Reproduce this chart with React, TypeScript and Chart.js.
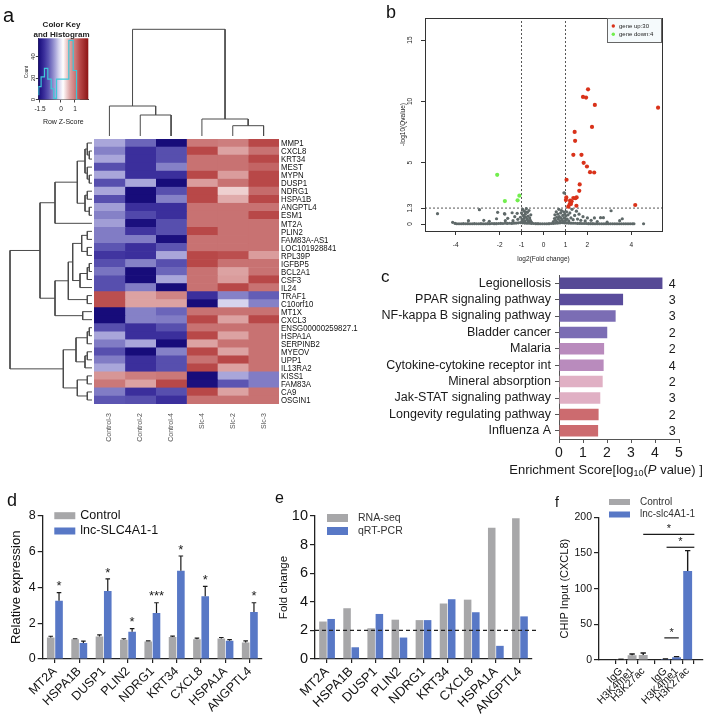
import React, { useEffect, useRef } from 'react';
import { Chart, registerables } from 'chart.js';

Chart.register(...registerables);

const FONT = '"Liberation Sans", Arial, Helvetica, sans-serif';
Chart.defaults.font.family = FONT;
Chart.defaults.color = '#222';

// ---------------- Panel a : heatmap ----------------
const GENES = ['MMP1', 'CXCL8', 'KRT34', 'MEST', 'MYPN', 'DUSP1', 'NDRG1', 'HSPA1B', 'ANGPTL4', 'ESM1', 'MT2A', 'PLIN2', 'FAM83A-AS1', 'LOC101928841', 'RPL39P', 'IGFBP5', 'BCL2A1', 'CSF3', 'IL24', 'TRAF1', 'C10orf10', 'MT1X', 'CXCL3', 'ENSG00000259827.1', 'HSPA1A', 'SERPINB2', 'MYEOV', 'UPP1', 'IL13RA2', 'KISS1', 'FAM83A', 'CA9', 'OSGIN1'];
const SAMPLES = ['Control-3', 'Control-2', 'Control-4', 'Slc-4', 'Slc-2', 'Slc-3'];
const Z_CONTROL3 = [-0.4, -0.62, -0.4, -0.95, -0.4, -0.95, -0.4, -0.95, -0.45, -0.62, -0.45, -0.65, -0.65, -0.9, -1.15, -0.95, -0.7, -0.95, -0.95, 1.3, 1.3, -1.6, -1.6, -0.95, -0.4, -0.65, -0.95, -0.65, -0.4, 0.75, 1.0, -0.65, -0.9];
const Z_CONTROL2 = [-0.8, -1.2, -1.2, -1.2, -1.2, -0.4, -1.6, -1.6, -1.2, -1.0, -1.55, -1.15, -0.65, -1.2, -1.2, -0.62, -1.6, -1.6, -0.65, 0.65, 0.65, -0.62, -0.62, -1.2, -1.2, -0.4, -1.6, -1.2, -1.2, 0.95, 0.65, -1.2, -0.95];
const Z_CONTROL4 = [-1.6, -0.95, -0.95, -0.62, -1.2, -1.6, -0.95, -0.62, -1.2, -1.2, -0.95, -0.95, -1.55, -0.9, -0.4, -0.95, -0.8, -0.4, -1.6, 0.9, 0.65, -0.8, -0.65, -0.95, -1.2, -1.6, -0.62, -0.95, -0.95, 1.0, 1.35, -0.95, -1.2];
const Z_SLC4 = [1.0, 1.35, 1.05, 1.05, 1.35, 0.7, 1.35, 1.35, 1.05, 1.05, 1.05, 1.35, 1.05, 1.05, 1.35, 1.35, 1.05, 1.05, 1.05, -1.2, -1.6, 1.05, 1.35, 1.05, 1.35, 0.65, 1.35, 1.05, 1.35, -1.6, -1.55, 1.35, 1.05];
const Z_SLC2 = [0.95, 0.65, 1.05, 1.05, 0.7, 1.05, 0.4, 0.6, 1.05, 1.05, 1.05, 1.05, 1.05, 1.05, 1.3, 1.05, 0.65, 0.7, 1.35, -0.62, -0.15, 1.05, 0.65, 1.05, 0.65, 1.05, 0.65, 1.35, 0.65, -0.4, -0.9, 0.65, 1.05];
const Z_SLC3 = [1.35, 1.05, 1.35, 1.15, 1.35, 1.35, 1.1, 1.35, 1.05, 1.35, 1.05, 1.05, 1.05, 1.05, 0.7, 1.05, 1.05, 1.35, 1.05, -0.85, -0.62, 1.05, 1.35, 1.05, 1.05, 1.05, 1.05, 1.05, 1.05, -0.65, -0.65, 1.05, 1.05];
const HEAT_COLUMNS = [Z_CONTROL3, Z_CONTROL2, Z_CONTROL4, Z_SLC4, Z_SLC2, Z_SLC3];

// colour key (z-score -> colour)
const KEY_STOPS: [number, string][] = [
  [-1.62, '#150a78'], [-1.2, '#3b2f9c'], [-0.9, '#5c55b2'], [-0.6, '#8884c9'], [-0.4, '#a9a6da'],
  [-0.15, '#d6d4ee'], [0.15, '#ffffff'], [0.45, '#ebc6c6'], [0.65, '#dca2a2'], [1.05, '#c87272'],
  [1.35, '#b84848'], [1.95, '#8c1414'],
];
const KEY_MIN = -1.62;
const KEY_MAX = 1.95;
const KEY_TICKS = [-1.5, 0, 1];
const COUNT_TICKS = [0, 20, 40];
const COUNT_MAX = 57;
const HIST_EDGES = [-1.59, -1.42, -1.18, -0.94, -0.7, -0.51, -0.32, 0.56, 0.87, 1.11, 1.34];
const HIST_COUNTS = [4, 12, 21, 29, 19, 10, 1, 19, 55, 27, 0];

// dendrograms, R hclust style merges: [a, b, height]; negative = leaf, positive = earlier merge
const ROW_MERGE: [number, number, number][] = [
  [-2, -3, 2.7], [-1, 1, 4.7], [-5, -6, 2.7], [-4, 3, 4.7], [2, 4, 7], [-7, -8, 4.7], [-9, -10, 2.7],
  [6, 7, 7], [5, 8, 14.7], [9, -11, 37], [-12, -13, 4.7], [-14, -15, 4.7], [11, 12, 10.3],
  [-16, -17, 2.7], [14, -18, 4.7], [15, -19, 12], [13, 16, 19.3], [-20, -21, 4.7], [17, 18, 23.7],
  [-22, -23, 9.3], [19, 20, 37], [10, 21, 52], [-24, -25, 2.7], [23, -26, 4.7], [-27, -28, 4.7],
  [25, -29, 7], [24, 26, 16], [-30, -31, 4.7], [-32, -33, 4.7], [28, 29, 14.7], [27, 30, 28.7],
  [22, 31, 82],
];
const COL_MERGE: [number, number, number][] = [
  [-2, -3, 21], [-1, 1, 30], [-5, -6, 10.3], [-4, 3, 17], [2, 4, 106.7],
];

// ---------------- Panel b : volcano ----------------
const UP_POINTS: [number, number][] = [
  [2.03, 10.98], [1.8, 10.36], [1.94, 10.31], [2.34, 9.71], [5.22, 9.49], [2.21, 7.92], [1.42, 7.51],
  [1.44, 6.78], [1.36, 5.64], [1.73, 5.64], [1.83, 4.99], [1.98, 4.69], [2.12, 4.23], [2.31, 4.2],
  [1.05, 3.61], [1.65, 3.23], [1.63, 2.71], [1.04, 2.17], [1.36, 2.12], [1.51, 2.17], [1.21, 1.9],
  [1.24, 1.76], [1.25, 1.63], [1.5, 1.49], [1.13, 1.41], [4.18, 1.55], [1.28, 1.85], [1.45, 2.1],
  [1.02, 1.95], [1.19, 1.6],
];
const DOWN_POINTS: [number, number][] = [[-2.11, 4.01], [-1.76, 1.87], [-1.18, 1.93], [-1.1, 2.31]];
const OTHER_POINTS: [number, number][] = [
  [-4.83, 0.84], [-4.14, 0.14], [-4.03, 0.05], [-3.95, 0.02], [-3.85, 0.02], [-3.75, 0.02], [-3.65, 0.03],
  [-3.55, 0.02], [-3.45, 0.03], [-3.42, 0.27], [-3.35, 0.02], [-3.25, 0.02], [-3.15, 0.03], [-3.05, 0.02],
  [-2.95, 0.02], [-2.92, 1.17], [-2.85, 0.03], [-2.75, 0.02], [-2.72, 0.3], [-2.65, 0.02], [-2.55, 0.03],
  [-2.47, 0.22], [-2.45, 0.02], [-2.35, 0.04], [-2.25, 0.03], [-2.14, 0.43], [-2.15, 0.03], [-2.09, 0.95],
  [-2.05, 0.04], [-1.95, 0.05], [-1.85, 0.04], [-1.78, 0.84], [-1.76, 0.81], [-1.74, 0.27], [-1.75, 0.06],
  [-1.65, 0.05], [-1.63, 0.46], [-1.55, 0.06], [-1.45, 0.05], [-1.43, 0.92], [-1.39, 0.27], [-1.35, 0.07],
  [-1.31, 0.6], [-1.25, 0.08], [-1.2, 0.87], [-1.17, 0.38], [-1.15, 0.1], [-1.05, 0.55], [-1.05, 0.12],
  [-1.0, 0.9], [-0.98, 0.35], [-0.97, 0.15], [-0.95, 1.2], [-0.95, 0.1], [-0.93, 0.7], [-0.92, 0.2],
  [-0.9, 0.45], [-0.88, 1.05], [-0.87, 0.6], [-0.85, 0.25], [-0.85, 0.08], [-0.83, 0.8], [-0.82, 1.0],
  [-0.8, 0.55], [-0.78, 1.25], [-0.75, 0.4], [-0.75, 0.07], [-0.73, 0.95], [-0.72, 0.3], [-0.7, 0.65],
  [-0.68, 0.2], [-0.66, 1.1], [-0.65, 0.06], [-0.63, 0.5], [-0.6, 0.3], [-0.58, 0.75], [-0.55, 0.15],
  [-0.55, 0.05], [-0.45, 0.04], [-0.35, 0.03], [-0.25, 0.03], [-0.15, 0.02], [-0.05, 0.02], [0.05, 0.02],
  [0.15, 0.02], [0.25, 0.03], [0.35, 0.04], [0.45, 0.2], [0.45, 0.05], [0.5, 0.45], [0.52, 0.75],
  [0.55, 0.3], [0.55, 0.06], [0.58, 1.0], [0.6, 0.55], [0.62, 0.15], [0.65, 0.8], [0.65, 0.08],
  [0.68, 0.4], [0.7, 1.2], [0.72, 0.6], [0.75, 0.25], [0.75, 0.1], [0.78, 0.9], [0.8, 0.5], [0.82, 1.1],
  [0.85, 0.35], [0.85, 0.12], [0.88, 0.7], [0.9, 0.2], [0.92, 1.0], [0.93, 2.55], [0.95, 0.5],
  [0.95, 0.1], [0.96, 2.52], [0.97, 0.8], [1.0, 0.3], [1.02, 0.65], [1.05, 1.0], [1.05, 0.09],
  [1.08, 0.4], [1.12, 0.75], [1.15, 0.25], [1.15, 0.08], [1.2, 0.9], [1.25, 0.5], [1.25, 0.07],
  [1.3, 1.2], [1.35, 0.35], [1.35, 0.06], [1.42, 0.7], [1.45, 0.06], [1.5, 1.05], [1.55, 0.4],
  [1.55, 0.05], [1.62, 0.8], [1.65, 0.05], [1.7, 0.3], [1.75, 0.04], [1.8, 0.6], [1.85, 0.04],
  [1.9, 0.25], [1.95, 0.04], [2.0, 0.5], [2.05, 0.03], [2.15, 0.03], [2.17, 0.3], [2.25, 0.03],
  [2.32, 0.5], [2.35, 0.02], [2.45, 0.2], [2.45, 0.02], [2.55, 0.02], [2.6, 0.52], [2.65, 0.02],
  [2.73, 0.52], [2.75, 0.02], [2.85, 0.02], [2.9, 0.15], [2.95, 0.02], [3.05, 0.02], [3.08, 1.08],
  [3.15, 0.02], [3.25, 0.02], [3.35, 0.02], [3.45, 0.02], [3.47, 0.27], [3.55, 0.02], [3.59, 0.43],
  [3.65, 0.02], [3.75, 0.02], [3.85, 0.02], [3.95, 0.02], [4.05, 0.02], [4.12, 0.02], [4.56, 0.02],
];
const FC_CUT = 1;
const Q_CUT = 1.3;
const VX_MIN = -5.4;
const VX_MAX = 5.4;
const VY_MIN = -0.57;
const VY_MAX = 16.8;
const VOLCANO_XTICKS = [-4, -2, -1, 0, 1, 2, 4];
const VOLCANO_YTICKS = [0, 1.3, 5, 10, 15];

// ---------------- Panel c : KEGG enrichment ----------------
const PATHWAYS = ['Legionellosis', 'PPAR signaling pathway', 'NF-kappa B signaling pathway', 'Bladder cancer', 'Malaria', 'Cytokine-cytokine receptor int', 'Mineral absorption', 'Jak-STAT signaling pathway', 'Longevity regulating pathway', 'Influenza A'];
const ENRICH_SCORES = [4.31, 2.67, 2.36, 2.01, 1.88, 1.86, 1.82, 1.72, 1.65, 1.63];
const GENE_COUNTS = [4, 3, 3, 2, 2, 4, 2, 3, 2, 3];
const PATH_COLORS = ['#574a96', '#5a4c9c', '#7b6db4', '#7b6db4', '#b98bbd', '#b98bbd', '#e0b0c4', '#e0b0c4', '#cc6b6f', '#cc6b6f'];
const COUNT_X_VALUE = 4.72;

// ---------------- Panel d : qRT-PCR ----------------
const QPCR_GENES = ['MT2A', 'HSPA1B', 'DUSP1', 'PLIN2', 'NDRG1', 'KRT34', 'CXCL8', 'HSPA1A', 'ANGPTL4'];
const D_CONTROL = [1.2, 1.1, 1.25, 1.08, 0.98, 1.23, 1.1, 1.15, 0.92];
const D_CONTROL_ERR = [0.07, 0.03, 0.1, 0.05, 0.03, 0.05, 0.06, 0.05, 0.09];
const D_LNC = [3.25, 0.9, 3.8, 1.52, 2.57, 4.92, 3.5, 1.02, 2.62];
const D_LNC_ERR = [0.45, 0.1, 0.67, 0.18, 0.57, 0.83, 0.55, 0.06, 0.52];
const D_STARS = ['*', '', '*', '*', '***', '*', '*', '', '*'];

// ---------------- Panel e : RNA-seq vs qRT-PCR ----------------
const E_RNASEQ = [2.62, 3.55, 2.15, 2.75, 2.72, 3.88, 4.15, 9.18, 9.85];
const E_QPCR = [2.8, 0.82, 3.15, 1.5, 2.72, 4.18, 3.27, 0.92, 2.98];
const E_THRESHOLD = 2;

// ---------------- Panel f : ChIP ----------------
const F_TICK_LABELS = ['IgG', 'H3K4me1', 'H3K27ac', 'IgG', 'H3K4me1', 'H3K27ac'];
const F_CONTROL_POS = [1, 2, 3];
const F_LNC_POS = [5, 6, 7];
const F_CONTROL = [1, 6.5, 7];
const F_CONTROL_ERR = [0, 1.9, 2.8];
const F_LNC = [1.5, 3.7, 124.8];
const F_LNC_ERR = [0, 1, 28.5];
const F_BRACKETS = [
  { x1: 3, x2: 7.6, y: 176, text: '*' },
  { x1: 5.1, x2: 7.6, y: 158, text: '*' },
  { x1: 4.9, x2: 6.2, y: 31, text: '*' },
];

const GREY_BAR = '#a7a7a9';
const BLUE_BAR = '#5878c6';

// ---------------- helpers ----------------
function hexRgb(c: string) {
  return [parseInt(c.slice(1, 3), 16), parseInt(c.slice(3, 5), 16), parseInt(c.slice(5, 7), 16)];
}
function zColor(z: number): string {
  const s = KEY_STOPS;
  if (z <= s[0][0]) return s[0][1];
  for (let i = 1; i < s.length; i++) {
    if (z <= s[i][0]) {
      const t = (z - s[i - 1][0]) / (s[i][0] - s[i - 1][0]);
      const a = hexRgb(s[i - 1][1]);
      const b = hexRgb(s[i][1]);
      return `rgb(${a.map((v, k) => Math.round(v + (b[k] - v) * t)).join(',')})`;
    }
  }
  return s[s.length - 1][1];
}
function dendroLines(merges: [number, number, number][]) {
  const P: number[] = [];
  const H: number[] = [];
  const get = (id: number) => (id < 0 ? { p: -id - 1, h: 0 } : { p: P[id - 1], h: H[id - 1] });
  return merges.map(([a, b, h], k) => {
    const A = get(a);
    const B = get(b);
    P[k] = (A.p + B.p) / 2;
    H[k] = h;
    return [{ p: A.p, h: A.h }, { p: A.p, h }, { p: B.p, h }, { p: B.p, h: B.h }];
  });
}
const yOf = (d: any) => (typeof d === 'number' ? d : d.y);

type TextItem = { t: string; x: number; y: number; size: number; bold?: boolean; color?: string; rot?: number; align?: CanvasTextAlign };
const textPlugin = (items: TextItem[]) => ({
  id: 'textItems',
  afterDraw(chart: any) {
    const ctx = chart.ctx;
    items.forEach((it) => {
      ctx.save();
      ctx.font = `${it.bold ? 'bold ' : ''}${it.size}px ${FONT}`;
      ctx.fillStyle = it.color || '#222';
      ctx.textAlign = it.align || 'center';
      ctx.textBaseline = 'middle';
      ctx.translate(it.x, it.y);
      if (it.rot) ctx.rotate((it.rot * Math.PI) / 180);
      ctx.fillText(it.t, 0, 0);
      ctx.restore();
    });
  },
});

const legendPlugin = (o: any) => ({
  id: 'swatchLegend',
  afterDraw(chart: any) {
    const { ctx, chartArea } = chart;
    const items = chart.data.datasets.filter((d: any) => d.legend);
    ctx.save();
    const x0 = o.alignRight ? chartArea.right - o.boxW : chartArea.left + o.dx;
    const y0 = chartArea.top + o.dy;
    if (o.boxW) {
      ctx.fillStyle = o.boxFill;
      ctx.fillRect(x0, y0, o.boxW, o.boxH);
      ctx.strokeStyle = o.boxStroke;
      ctx.lineWidth = 1;
      ctx.strokeRect(x0 + 0.5, y0 + 0.5, o.boxW - 1, o.boxH - 1);
    }
    ctx.font = `${o.size}px ${FONT}`;
    ctx.textBaseline = 'middle';
    ctx.textAlign = 'left';
    items.forEach((d: any, i: number) => {
      const y = y0 + o.firstY + i * o.rowH;
      ctx.fillStyle = d.legendColor || d.backgroundColor;
      if (o.shape === 'dot') {
        ctx.beginPath();
        ctx.arc(x0 + o.swX, y, o.swH / 2, 0, Math.PI * 2);
        ctx.fill();
      } else {
        ctx.fillRect(x0 + o.swX, y - o.swH / 2, o.swW, o.swH);
      }
      ctx.fillStyle = o.color;
      ctx.fillText(d.label, x0 + o.textX, y);
    });
    ctx.restore();
  },
});

const errorBarPlugin = (capRatio: number, lineWidth: number) => ({
  id: 'errorBars',
  afterDatasetsDraw(chart: any) {
    const { ctx } = chart;
    const ys = chart.scales.y;
    chart.data.datasets.forEach((ds: any, di: number) => {
      if (!ds.errors) return;
      const meta = chart.getDatasetMeta(di);
      ctx.save();
      ctx.strokeStyle = '#1a1a1a';
      ctx.lineWidth = lineWidth;
      meta.data.forEach((bar: any, i: number) => {
        const e = ds.errors[i];
        const v = yOf(ds.data[i]);
        const top = ys.getPixelForValue(v + e);
        const cw = bar.width * capRatio;
        ctx.beginPath();
        ctx.moveTo(bar.x, ys.getPixelForValue(v));
        ctx.lineTo(bar.x, top);
        ctx.moveTo(bar.x - cw / 2, top);
        ctx.lineTo(bar.x + cw / 2, top);
        ctx.stroke();
        if (ds.stars && ds.stars[i]) {
          ctx.fillStyle = '#1a1a1a';
          ctx.font = `13px ${FONT}`;
          ctx.textAlign = 'center';
          ctx.textBaseline = 'middle';
          ctx.fillText(ds.stars[i], bar.x, top - 6);
        }
      });
      ctx.restore();
    });
  },
});

const rotYTicksPlugin = (offset: number, size: number) => ({
  id: 'rotYTicks',
  afterDraw(chart: any) {
    const { ctx, chartArea } = chart;
    const s = chart.scales.y;
    ctx.save();
    ctx.font = `${size}px ${FONT}`;
    ctx.fillStyle = '#222';
    ctx.textAlign = 'center';
    ctx.textBaseline = 'middle';
    s.ticks.forEach((t: any) => {
      ctx.save();
      ctx.translate(chartArea.left - offset, s.getPixelForValue(t.value));
      ctx.rotate(-Math.PI / 2);
      ctx.fillText(String(t.value), 0, 0);
      ctx.restore();
    });
    ctx.restore();
  },
});

// gene labels on the right of the heatmap, narrow (horizontally condensed) like the R output
const geneLabelPlugin = {
  id: 'geneLabels',
  afterDraw(chart: any) {
    const { ctx, chartArea } = chart;
    const s = chart.scales.y;
    ctx.save();
    ctx.font = `9.8px ${FONT}`;
    ctx.fillStyle = '#111';
    ctx.textAlign = 'left';
    ctx.textBaseline = 'middle';
    GENES.forEach((g, i) => {
      ctx.save();
      ctx.translate(chartArea.right + 2, s.getPixelForValue(i) + 0.5);
      ctx.scale(0.8, 1);
      ctx.fillText(g, 0, 0);
      ctx.restore();
    });
    ctx.restore();
  },
};

const boxPlugin = {
  id: 'boxFrame',
  afterDraw(chart: any) {
    const { ctx, chartArea: a } = chart;
    ctx.save();
    ctx.strokeStyle = '#333';
    ctx.lineWidth = 1;
    ctx.strokeRect(Math.round(a.left) + 0.5, Math.round(a.top) + 0.5, Math.round(a.right - a.left), Math.round(a.bottom - a.top));
    ctx.restore();
  },
};

const noInteract = { legend: { display: false }, tooltip: { enabled: false } };

// ---------------- chart configs ----------------
function keyConfig(): any {
  return {
    type: 'scatter',
    data: {
      datasets: [{
        data: HIST_EDGES.map((e, i) => ({ x: e, y: HIST_COUNTS[i] })),
        showLine: true, stepped: 'after', borderColor: '#3ec9d9', borderWidth: 1.2, pointRadius: 0,
      }],
    },
    options: {
      responsive: false, animation: false, events: [],
      layout: { padding: { left: 0, top: 38.3, right: 11.7, bottom: 0 } },
      plugins: noInteract,
      scales: {
        x: {
          type: 'linear', min: KEY_MIN, max: KEY_MAX,
          afterBuildTicks: (s: any) => { s.ticks = KEY_TICKS.map((v) => ({ value: v })); },
          ticks: { font: { size: 6.5 }, color: '#222', padding: 3, autoSkip: false, maxRotation: 0 },
          grid: { drawOnChartArea: false, tickLength: 3, color: '#444' },
          border: { color: '#444' },
          title: { display: true, text: 'Row Z-Score', font: { size: 7 }, color: '#222', padding: { top: 0, bottom: 9 } },
          afterFit: (s: any) => { s.height = 35.5; },
        },
        y: {
          type: 'linear', min: 0, max: COUNT_MAX,
          afterBuildTicks: (s: any) => { s.ticks = COUNT_TICKS.map((v) => ({ value: v })); },
          ticks: { display: false },
          grid: { drawOnChartArea: false, tickLength: 2.5, color: '#444' },
          border: { color: '#444' },
          afterFit: (s: any) => { s.width = 38.3; },
        },
      },
    },
    plugins: [
      {
        id: 'keyGradient',
        beforeDatasetsDraw(chart: any) {
          const { ctx, chartArea: a } = chart;
          const g = ctx.createLinearGradient(a.left, 0, a.right, 0);
          KEY_STOPS.forEach(([v, c]) => g.addColorStop((v - KEY_MIN) / (KEY_MAX - KEY_MIN), c));
          ctx.save();
          ctx.fillStyle = g;
          ctx.fillRect(a.left, a.top, a.right - a.left, a.bottom - a.top);
          ctx.restore();
        },
      },
      rotYTicksPlugin(4.5, 6),
      textPlugin([
        { t: 'Color Key', x: 61.5, y: 25, size: 8, bold: true },
        { t: 'and Histogram', x: 61.5, y: 34.5, size: 8, bold: true },
        { t: 'Count', x: 27, y: 72, size: 4.5, rot: -90 },
      ]),
    ],
  };
}

function heatmapConfig(): any {
  return {
    type: 'bar',
    data: {
      labels: GENES,
      datasets: HEAT_COLUMNS.map((col, j) => ({
        label: SAMPLES[j],
        data: col.map(() => 1),
        backgroundColor: col.map(zColor),
        borderWidth: 0,
        categoryPercentage: 1,
        barPercentage: 1,
        stack: 'heat',
      })),
    },
    options: {
      indexAxis: 'y', responsive: false, animation: false, events: [],
      layout: { padding: { left: 4, top: 9, right: 0, bottom: 0 } },
      plugins: noInteract,
      scales: {
        x: {
          type: 'linear', stacked: true, min: 0, max: SAMPLES.length,
          afterBuildTicks: (s: any) => { s.ticks = SAMPLES.map((_, j) => ({ value: j + 0.5 })); },
          ticks: { autoSkip: false, minRotation: 90, maxRotation: 90, padding: 9, font: { size: 7 }, color: '#555', callback: (_v: any, i: number) => SAMPLES[i] },
          grid: { display: false, drawTicks: false },
          border: { display: false },
          afterFit: (s: any) => { s.height = 46; },
        },
        y: {
          position: 'right', stacked: true,
          ticks: { display: false },
          grid: { display: false, drawTicks: false },
          border: { display: false },
          afterFit: (s: any) => { s.width = 91; },
        },
      },
    },
    plugins: [geneLabelPlugin],
  };
}

function rowDendroConfig(): any {
  return {
    type: 'scatter',
    data: {
      datasets: dendroLines(ROW_MERGE).map((seg) => ({
        data: seg.map((q) => ({ x: q.h, y: q.p })),
        showLine: true, borderColor: '#4a4a4a', borderWidth: 1, pointRadius: 0, clip: false,
      })),
    },
    options: {
      responsive: false, animation: false, events: [],
      layout: { padding: { left: 10, right: 3, top: 9, bottom: 46 } },
      plugins: noInteract,
      scales: {
        x: { type: 'linear', display: false, min: 0, max: ROW_MERGE[ROW_MERGE.length - 1][2], reverse: true },
        y: { type: 'linear', display: false, min: -0.5, max: GENES.length - 0.5, reverse: true },
      },
    },
  };
}

function colDendroConfig(): any {
  return {
    type: 'scatter',
    data: {
      datasets: dendroLines(COL_MERGE).map((seg) => ({
        data: seg.map((q) => ({ x: q.p, y: q.h })),
        showLine: true, borderColor: '#4a4a4a', borderWidth: 1, pointRadius: 0, clip: false,
      })),
    },
    options: {
      responsive: false, animation: false, events: [],
      layout: { padding: { left: 4, right: 81, top: 9.3, bottom: 4 } },
      plugins: noInteract,
      scales: {
        x: { type: 'linear', display: false, min: -0.5, max: SAMPLES.length - 0.5 },
        y: { type: 'linear', display: false, min: 0, max: COL_MERGE[COL_MERGE.length - 1][2] },
      },
    },
  };
}

function volcanoConfig(): any {
  const pts = (a: [number, number][]) => a.map(([x, y]) => ({ x, y }));
  const dash = (data: any[]) => ({ data, showLine: true, borderColor: '#444', borderWidth: 0.9, borderDash: [2, 2], pointRadius: 0 });
  return {
    type: 'scatter',
    data: {
      datasets: [
        { label: `gene up:${UP_POINTS.length}`, legend: true, data: pts(UP_POINTS), backgroundColor: '#d9321a', borderColor: '#d9321a', pointRadius: 2.1, pointBorderWidth: 0 },
        { label: `gene down:${DOWN_POINTS.length}`, legend: true, data: pts(DOWN_POINTS), backgroundColor: '#72ee4e', borderColor: '#72ee4e', pointRadius: 2.1, pointBorderWidth: 0 },
        { label: 'other', data: pts(OTHER_POINTS), backgroundColor: '#5f6969', borderColor: '#5f6969', pointRadius: 1.6, pointBorderWidth: 0 },
        dash([{ x: -FC_CUT, y: VY_MIN }, { x: -FC_CUT, y: VY_MAX }]),
        dash([{ x: FC_CUT, y: VY_MIN }, { x: FC_CUT, y: VY_MAX }]),
        dash([{ x: VX_MIN, y: Q_CUT }, { x: VX_MAX, y: Q_CUT }]),
      ],
    },
    options: {
      responsive: false, animation: false, events: [],
      layout: { padding: { left: 0, top: 18, right: 52, bottom: 0 } },
      plugins: noInteract,
      scales: {
        x: {
          type: 'linear', min: VX_MIN, max: VX_MAX,
          afterBuildTicks: (s: any) => { s.ticks = VOLCANO_XTICKS.map((v) => ({ value: v })); },
          ticks: { font: { size: 6.5 }, color: '#222', padding: 6, autoSkip: false, maxRotation: 0 },
          grid: { drawOnChartArea: false, tickLength: 4, color: '#333' },
          border: { color: '#333' },
          title: { display: true, text: 'log2(Fold change)', font: { size: 6.5 }, color: '#222', padding: { top: 0, bottom: 7 } },
          afterFit: (s: any) => { s.height = 39; },
        },
        y: {
          type: 'linear', min: VY_MIN, max: VY_MAX,
          afterBuildTicks: (s: any) => { s.ticks = VOLCANO_YTICKS.map((v) => ({ value: v })); },
          ticks: { display: false },
          grid: { drawOnChartArea: false, tickLength: 4, color: '#333' },
          border: { color: '#333' },
          title: { display: true, text: '-log10(Qvalue)', font: { size: 6.5 }, color: '#222', padding: { top: 39, bottom: 0 } },
          afterFit: (s: any) => { s.width = 65; },
        },
      },
    },
    plugins: [
      boxPlugin,
      rotYTicksPlugin(15, 6.5),
      legendPlugin({ alignRight: true, dy: 0, boxW: 55, boxH: 25, boxFill: '#f5fafc', boxStroke: '#666', size: 6, color: '#222', shape: 'dot', swX: 6.3, swH: 3.4, textX: 12, firstY: 8, rowH: 8.3 }),
    ],
  };
}

function enrichConfig(): any {
  return {
    type: 'bar',
    data: {
      labels: PATHWAYS,
      datasets: [{ data: ENRICH_SCORES, backgroundColor: PATH_COLORS, categoryPercentage: 0.7, barPercentage: 1, borderWidth: 0 }],
    },
    options: {
      indexAxis: 'y', responsive: false, animation: false, events: [],
      layout: { padding: { left: 0, top: 13, right: 35, bottom: 0 } },
      plugins: noInteract,
      scales: {
        y: {
          grid: { offset: false, drawOnChartArea: false, tickLength: 4, color: '#555' },
          border: { color: '#555' },
          ticks: { autoSkip: false, font: { size: 12.5 }, color: '#1a1a1a', padding: 4 },
          afterFit: (s: any) => { s.width = 199; },
        },
        x: {
          min: 0, max: 5,
          ticks: { stepSize: 1, font: { size: 14 }, color: '#1a1a1a', padding: 2 },
          grid: { drawOnChartArea: false, tickLength: 4, color: '#555' },
          border: { color: '#555' },
          afterFit: (s: any) => { s.height = 45; },
        },
      },
    },
    plugins: [
      {
        id: 'counts',
        afterDraw(chart: any) {
          const { ctx, scales } = chart;
          ctx.save();
          ctx.font = `12.5px ${FONT}`;
          ctx.fillStyle = '#1a1a1a';
          ctx.textAlign = 'center';
          ctx.textBaseline = 'middle';
          GENE_COUNTS.forEach((c, i) => ctx.fillText(String(c), scales.x.getPixelForValue(COUNT_X_VALUE), scales.y.getPixelForValue(i) + 1));
          ctx.restore();
        },
      },
      {
        id: 'enrichTitle',
        afterDraw(chart: any) {
          const { ctx, chartArea } = chart;
          const parts = [
            { t: 'Enrichment Score[log', f: `13px ${FONT}`, dy: 0 },
            { t: '10', f: `9px ${FONT}`, dy: 3.5 },
            { t: '(', f: `13px ${FONT}`, dy: 0 },
            { t: 'P', f: `italic 13px ${FONT}`, dy: 0 },
            { t: ' value) ]', f: `13px ${FONT}`, dy: 0 },
          ];
          ctx.save();
          let w = 0;
          parts.forEach((p) => { ctx.font = p.f; w += ctx.measureText(p.t).width; });
          let x = (chartArea.left + chartArea.right) / 2 - 13 - w / 2;
          const y = chart.height - 14;
          ctx.fillStyle = '#1a1a1a';
          ctx.textBaseline = 'middle';
          ctx.textAlign = 'left';
          parts.forEach((p) => { ctx.font = p.f; ctx.fillText(p.t, x, y + p.dy); x += ctx.measureText(p.t).width; });
          ctx.restore();
        },
      },
    ],
  };
}

function prismScales(yMax: number, yStep: number, yTitle: string, yWidth: number, yTickSize: number, yTitleSize: number, yTitlePad: number, xTickSize: number): any {
  return {
    x: {
      grid: { offset: false, drawOnChartArea: false, tickLength: 4, color: '#222', lineWidth: 1.2 },
      border: { color: '#222', width: 1.3 },
      ticks: { autoSkip: false, minRotation: 45, maxRotation: 45, font: { size: xTickSize }, color: '#111', padding: 1 },
      afterFit: (s: any) => { s.height = 55; },
    },
    y: {
      min: 0, max: yMax,
      ticks: { stepSize: yStep, font: { size: yTickSize }, color: '#111', padding: 2 },
      grid: { drawOnChartArea: false, tickLength: 5, color: '#222', lineWidth: 1.2 },
      border: { color: '#222', width: 1.3 },
      title: { display: true, text: yTitle, font: { size: yTitleSize }, color: '#111', padding: { top: yTitlePad, bottom: 0 } },
      afterFit: (s: any) => { s.width = yWidth; },
    },
  };
}

function qpcrConfig(): any {
  return {
    type: 'bar',
    data: {
      labels: QPCR_GENES,
      datasets: [
        { label: 'Control', legend: true, data: D_CONTROL, errors: D_CONTROL_ERR, backgroundColor: GREY_BAR, categoryPercentage: 0.68, barPercentage: 0.92 },
        { label: 'lnc-SLC4A1-1', legend: true, data: D_LNC, errors: D_LNC_ERR, stars: D_STARS, backgroundColor: BLUE_BAR, categoryPercentage: 0.68, barPercentage: 0.92 },
      ],
    },
    options: {
      responsive: false, animation: false, events: [],
      layout: { padding: { left: 0, top: 31.7, right: 8, bottom: 0 } },
      plugins: noInteract,
      scales: prismScales(8, 2, 'Relative expression', 42.7, 12.5, 13, 9, 12.5),
    },
    plugins: [
      errorBarPlugin(0.6, 1.2),
      legendPlugin({ dx: 11.6, dy: 0, size: 12.5, color: '#111', swX: 0, swW: 21, swH: 7, textX: 26, firstY: 0, rowH: 15.3 }),
    ],
  };
}

function foldConfig(): any {
  return {
    type: 'bar',
    data: {
      labels: QPCR_GENES,
      datasets: [
        { label: 'RNA-seq', legend: true, data: E_RNASEQ, backgroundColor: GREY_BAR, categoryPercentage: 0.68, barPercentage: 0.92 },
        { label: 'qRT-PCR', legend: true, data: E_QPCR, backgroundColor: BLUE_BAR, categoryPercentage: 0.68, barPercentage: 0.92 },
      ],
    },
    options: {
      responsive: false, animation: false, events: [],
      layout: { padding: { left: 0, top: 32, right: 8, bottom: 0 } },
      plugins: noInteract,
      scales: prismScales(10, 2, 'Fold change', 45, 14.5, 11.5, 7, 13),
    },
    plugins: [
      {
        id: 'threshold',
        afterDatasetsDraw(chart: any) {
          const { ctx, chartArea, scales } = chart;
          const y = scales.y.getPixelForValue(E_THRESHOLD);
          ctx.save();
          ctx.strokeStyle = '#222';
          ctx.lineWidth = 1.3;
          ctx.setLineDash([4, 3]);
          ctx.beginPath();
          ctx.moveTo(chartArea.left, y);
          ctx.lineTo(chartArea.right + 5, y);
          ctx.stroke();
          ctx.restore();
        },
      },
      legendPlugin({ dx: 12, dy: 0, size: 10.5, color: '#333', swX: 0, swW: 21, swH: 8, textX: 31, firstY: 2, rowH: 13 }),
    ],
  };
}

function chipConfig(): any {
  const sc = prismScales(200, 50, 'CHIP Input (CXCL8)', 59, 10.5, 11, 18, 10.5);
  sc.x = {
    ...sc.x,
    type: 'linear', min: -0.2, max: 7.6,
    afterBuildTicks: (s: any) => { s.ticks = [...F_CONTROL_POS, ...F_LNC_POS].map((v) => ({ value: v })); },
    ticks: { ...sc.x.ticks, callback: (_v: any, i: number) => F_TICK_LABELS[i] },
    grid: { drawOnChartArea: false, tickLength: 4, color: '#222', lineWidth: 1.2 },
    afterFit: (s: any) => { s.height = 54; },
  };
  return {
    type: 'bar',
    data: {
      datasets: [
        { label: 'Control', legend: true, data: F_CONTROL_POS.map((x, i) => ({ x, y: F_CONTROL[i] })), errors: F_CONTROL_ERR, backgroundColor: GREY_BAR, grouped: false, categoryPercentage: 0.8, barPercentage: 1 },
        { label: 'lnc-slc4A1-1', legend: true, data: F_LNC_POS.map((x, i) => ({ x, y: F_LNC[i] })), errors: F_LNC_ERR, backgroundColor: BLUE_BAR, grouped: false, categoryPercentage: 0.8, barPercentage: 1 },
      ],
    },
    options: {
      responsive: false, animation: false, events: [],
      layout: { padding: { left: 0, top: 33.3, right: 11, bottom: 0 } },
      plugins: noInteract,
      scales: sc,
    },
    plugins: [
      errorBarPlugin(0.6, 1.4),
      {
        id: 'brackets',
        afterDraw(chart: any) {
          const { ctx, scales } = chart;
          ctx.save();
          ctx.strokeStyle = '#1a1a1a';
          ctx.fillStyle = '#1a1a1a';
          ctx.lineWidth = 1.2;
          ctx.font = `11px ${FONT}`;
          ctx.textAlign = 'center';
          ctx.textBaseline = 'middle';
          F_BRACKETS.forEach((b) => {
            const y = scales.y.getPixelForValue(b.y);
            const x1 = scales.x.getPixelForValue(b.x1);
            const x2 = scales.x.getPixelForValue(b.x2);
            ctx.beginPath();
            ctx.moveTo(x1, y);
            ctx.lineTo(x2, y);
            ctx.stroke();
            ctx.fillText(b.text, (x1 + x2) / 2, y - 5);
          });
          ctx.restore();
        },
      },
      legendPlugin({ dx: 10, dy: 0, size: 10, color: '#333', swX: 0, swW: 21, swH: 6, textX: 31, firstY: -15.3, rowH: 12.5 }),
    ],
  };
}

// ---------------- components ----------------
function ChartBox({ left, top, width, height, config }: { left: number; top: number; width: number; height: number; config: () => any }) {
  const ref = useRef<HTMLCanvasElement | null>(null);
  useEffect(() => {
    if (!ref.current) return undefined;
    const chart = new Chart(ref.current, config());
    return () => chart.destroy();
  }, []);
  return <canvas ref={ref} width={width} height={height} style={{ position: 'absolute', left, top, width, height }} />;
}

function PanelLetter({ t, left, top, size }: { t: string; left: number; top: number; size: number }) {
  return <div style={{ position: 'absolute', left, top, fontSize: size, lineHeight: 1, fontFamily: FONT, color: '#111' }}>{t}</div>;
}

export default function App() {
  return (
    <div style={{ position: 'fixed', left: 0, top: 0, width: 714, height: 714, background: '#fff', overflow: 'hidden' }}>
      <ChartBox left={0} top={0} width={100} height={135} config={keyConfig} />
      <ChartBox left={90} top={20} width={270} height={120} config={colDendroConfig} />
      <ChartBox left={0} top={130} width={95} height={320} config={rowDendroConfig} />
      <ChartBox left={90} top={130} width={280} height={320} config={heatmapConfig} />
      <ChartBox left={360} top={0} width={354} height={270} config={volcanoConfig} />
      <ChartBox left={360} top={262} width={354} height={222} config={enrichConfig} />
      <ChartBox left={0} top={484} width={270} height={230} config={qpcrConfig} />
      <ChartBox left={270} top={484} width={270} height={230} config={foldConfig} />
      <ChartBox left={540} top={484} width={174} height={230} config={chipConfig} />
      <PanelLetter t="a" left={3} top={5} size={20} />
      <PanelLetter t="b" left={386} top={3} size={18} />
      <PanelLetter t="c" left={381} top={268} size={17} />
      <PanelLetter t="d" left={7} top={491} size={18} />
      <PanelLetter t="e" left={275} top={490} size={16} />
      <PanelLetter t="f" left={555} top={495} size={14} />
    </div>
  );
}
